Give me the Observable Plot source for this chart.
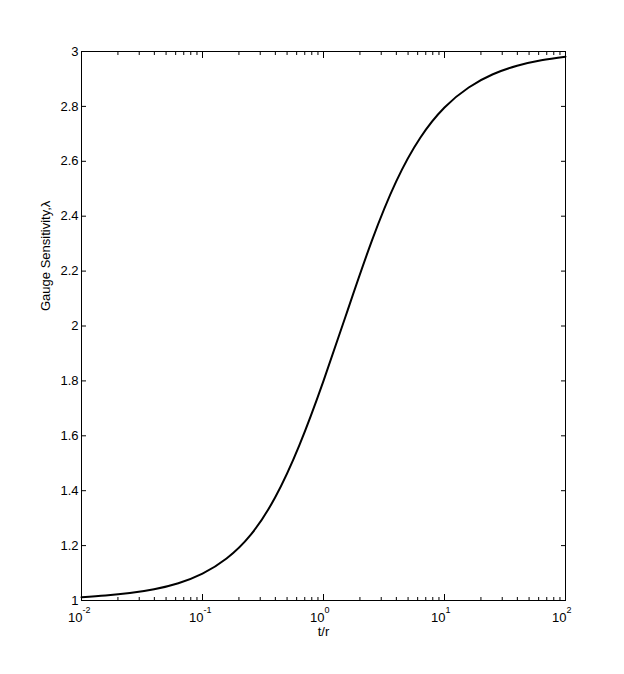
<!DOCTYPE html>
<html><head><meta charset="utf-8">
<script src="https://cdn.jsdelivr.net/npm/d3@7"></script>
<script src="https://cdn.jsdelivr.net/npm/@observablehq/plot@0.6"></script>
<style>
html,body{margin:0;padding:0;background:#fff;}
#chart svg{display:block;}
</style></head><body><div id="chart"></div>
<script>
// Data
const tOverR = [0.01, 0.0158, 0.0251, 0.0398, 0.0631, 0.1, 0.158, 0.251, 0.398, 0.631, 1, 1.585, 2.512, 3.981, 6.31, 10, 15.85, 25.12, 39.81, 63.1, 100];
const lambda = [1.012, 1.018, 1.027, 1.041, 1.063, 1.098, 1.153, 1.240, 1.375, 1.565, 1.800, 2.058, 2.311, 2.526, 2.686, 2.796, 2.869, 2.917, 2.948, 2.968, 2.981];

const xMajorTicks = [0.01, 0.1, 1, 10, 100];
const xTickBase = ["10", "10", "10", "10", "10"];
const xTickExponents = ["-2", "-1", "0", "1", "2"];
const xMinorTicks = [0.02,0.03,0.04,0.05,0.06,0.07,0.08,0.09,0.2,0.3,0.4,0.5,0.6,0.7,0.8,0.9,2,3,4,5,6,7,8,9,20,30,40,50,60,70,80,90];
const yTicks = [1, 1.2, 1.4, 1.6, 1.8, 2, 2.2, 2.4, 2.6, 2.8, 3];
const yTickLabels = ["1", "1.2", "1.4", "1.6", "1.8", "2", "2.2", "2.4", "2.6", "2.8", "3"];
const xLabel = "t/r";
const yLabel = "Gauge Sensitivity,\u03bb";

const curve = tOverR.map((t, i) => ({t, lambda: lambda[i]}));
const decades = xMajorTicks.map((v, i) => ({v, base: xTickBase[i], exp: xTickExponents[i]}));
const yLab = yTicks.map((v, i) => ({v, label: yTickLabels[i]}));

const font = "'Liberation Sans', Arial, Helvetica, sans-serif";

const chart = Plot.plot({
  width: 624,
  height: 674,
  marginLeft: 81,
  marginRight: 59,
  marginTop: 51,
  marginBottom: 74,
  style: {fontFamily: font, fontSize: "13px", background: "#fff", color: "#000", overflow: "visible"},
  x: {type: "log", domain: [0.01, 100]},
  y: {domain: [1, 3]},
  marks: [
    // inward tick marks on all four sides
    Plot.axisY({anchor: "left", ticks: yTicks, tickSize: -5, text: null, label: null}),
    Plot.axisY({anchor: "right", ticks: yTicks, tickSize: -5, text: null, label: null}),
    Plot.axisX({anchor: "bottom", ticks: xMajorTicks, tickSize: -6, text: null, label: null}),
    Plot.axisX({anchor: "top", ticks: xMajorTicks, tickSize: -6, text: null, label: null}),
    Plot.axisX({anchor: "bottom", ticks: xMinorTicks, tickSize: -3, text: null, label: null}),
    Plot.axisX({anchor: "top", ticks: xMinorTicks, tickSize: -3, text: null, label: null}),
    // y tick labels
    Plot.text(yLab, {y: "v", text: "label", frameAnchor: "left", textAnchor: "end", dx: -3, fontSize: 13, fill: "#000"}),
    // x tick labels: 10 with superscript exponent
    Plot.text(decades, {x: "v", text: "base", frameAnchor: "bottom", textAnchor: "end", lineAnchor: "bottom", dx: 1, dy: 21, fontSize: 13, fill: "#000"}),
    Plot.text(decades, {x: "v", text: "exp", frameAnchor: "bottom", textAnchor: "start", lineAnchor: "bottom", dx: 1, dy: 12, fontSize: 9, fill: "#000"}),
    // axis titles
    Plot.text([xLabel], {frameAnchor: "bottom", lineAnchor: "bottom", dy: 35, fontSize: 13, fill: "#000"}),
    Plot.text([yLabel], {frameAnchor: "left", rotate: -90, dx: -36, dy: -15, fontSize: 13, fill: "#000"}),
    // data curve
    Plot.line(curve, {x: "t", y: "lambda", stroke: "#000", strokeWidth: 2, curve: "natural"}),
    Plot.frame({stroke: "#000", strokeWidth: 1})
  ]
});
document.getElementById("chart").appendChild(chart);
</script>
</body></html>
